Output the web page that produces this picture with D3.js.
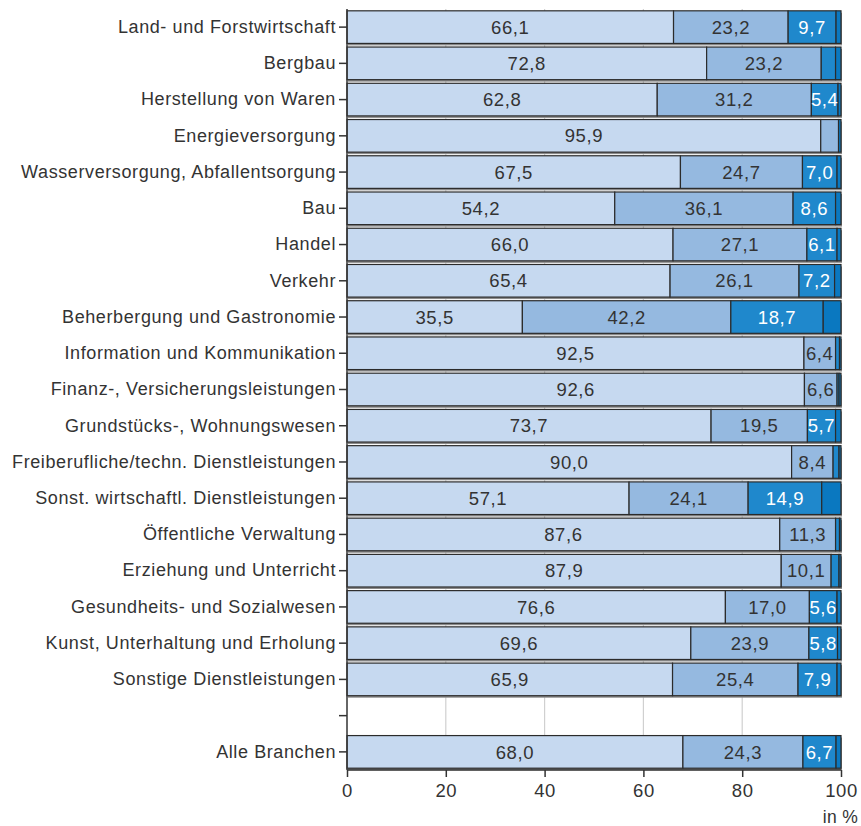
<!DOCTYPE html>
<html lang="de">
<head>
	<meta charset="UTF-8">
	<title>Branchen</title>
	<style>
		body { margin: 0; background: #fff; }
		text { font-family: "Liberation Sans", Arial, sans-serif; fill: #333; letter-spacing: 0.6px; }
		.axis path, .axis line { stroke: #333; stroke-width: 1.5; }
		.grid line { stroke: #d0d0d0; stroke-width: 1.2; }
	</style>
	<script src="https://cdn.jsdelivr.net/npm/d3@7/dist/d3.min.js"></script>
</head>
<body>
<script>
	// Kategorien (leerer Eintrag = Abstand vor "Alle Branchen")
	var categories = [
		"Land- und Forstwirtschaft", "Bergbau", "Herstellung von Waren", "Energieversorgung",
		"Wasserversorgung, Abfallentsorgung", "Bau", "Handel", "Verkehr",
		"Beherbergung und Gastronomie", "Information und Kommunikation",
		"Finanz-, Versicherungsleistungen", "Grundstücks-, Wohnungswesen",
		"Freiberufliche/techn. Dienstleistungen", "Sonst. wirtschaftl. Dienstleistungen",
		"Öffentliche Verwaltung", "Erziehung und Unterricht", "Gesundheits- und Sozialwesen",
		"Kunst, Unterhaltung und Erholung", "Sonstige Dienstleistungen", "", "Alle Branchen"
	];
	var part1 = [66.1, 72.8, 62.8, 95.9, 67.5, 54.2, 66.0, 65.4, 35.5, 92.5, 92.6, 73.7, 90.0, 57.1, 87.6, 87.9, 76.6, 69.6, 65.9, null, 68.0];
	var part2 = [23.2, 23.2, 31.2, 3.6, 24.7, 36.1, 27.1, 26.1, 42.2, 6.4, 6.6, 19.5, 8.4, 24.1, 11.3, 10.1, 17.0, 23.9, 25.4, null, 24.3];
	var part3 = [9.7, 2.9, 5.4, 0.0, 7.0, 8.6, 6.1, 7.2, 18.7, 0.8, 0.4, 5.7, 1.2, 14.9, 0.8, 1.6, 5.6, 5.8, 7.9, null, 6.7];
	var part4 = [1.0, 1.1, 0.6, 0.5, 0.8, 1.1, 0.8, 1.3, 3.6, 0.3, 0.4, 1.1, 0.4, 3.9, 0.3, 0.4, 0.8, 0.7, 0.8, null, 1.0];
	var xTicks = [0, 20, 40, 60, 80, 100];

	var colors = ["#c6d9f0", "#95b9e0", "#1f88cc", "#0a78c0"];
	var textColors = ["#333", "#333", "#fff", "#fff"];

	var width = 861, height = 826;
	var margin = {top: 9, right: 20, bottom: 56, left: 347};
	var innerW = 841 - margin.left, innerH = height - margin.top - margin.bottom;

	var svg = d3.select("body").append("svg")
		.attr("width", width)
		.attr("height", height);
	var g = svg.append("g")
		.attr("transform", "translate(" + margin.left + "," + margin.top + ")");

	var x = d3.scaleLinear().domain([0, 100]).range([0, innerW]);
	var y = d3.scaleBand().domain(d3.range(categories.length)).range([0, innerH]).paddingInner(0.1).paddingOuter(0.05);

	// Gitterlinien
	g.append("g").attr("class", "grid")
		.selectAll("line")
		.data(xTicks.slice(1, -1))
		.enter().append("line")
		.attr("x1", function(d) { return x(d); })
		.attr("x2", function(d) { return x(d); })
		.attr("y1", 0)
		.attr("y2", innerH);

	var rows = categories.map(function(c, i) {
		var vals = [part1[i], part2[i], part3[i], part4[i]];
		var x0 = 0;
		return {
			i: i,
			empty: part1[i] === null,
			segs: vals.map(function(v, k) {
				var s = {k: k, x0: x0, v: v || 0};
				x0 += v || 0;
				return s;
			})
		};
	}).filter(function(r) { return !r.empty; });

	var row = g.selectAll(".row")
		.data(rows)
		.enter().append("g")
		.attr("class", "row")
		.attr("transform", function(d) { return "translate(0," + y(d.i) + ")"; });

	// Schatten
	row.append("rect")
		.attr("x", 1)
		.attr("y", 2)
		.attr("width", x(100))
		.attr("height", y.bandwidth())
		.attr("fill", "#8a8a8a");

	row.selectAll(".seg")
		.data(function(d) { return d.segs.filter(function(s) { return s.v > 0; }); })
		.enter().append("rect")
		.attr("class", "seg")
		.attr("x", function(s) { return x(s.x0); })
		.attr("width", function(s) { return x(s.v); })
		.attr("height", y.bandwidth())
		.attr("fill", function(s) { return colors[s.k]; })
		.attr("stroke", "#2b2b2b")
		.attr("stroke-width", 1.2);

	row.selectAll(".lbl")
		.data(function(d) { return d.segs.filter(function(s) { return s.k < 3 && s.v >= 5; }); })
		.enter().append("text")
		.attr("class", "lbl")
		.attr("x", function(s) { return x(s.x0 + s.v / 2); })
		.attr("y", y.bandwidth() / 2)
		.attr("dy", "0.36em")
		.attr("text-anchor", "middle")
		.style("font-size", "18.5px")
		.style("fill", function(s) { return textColors[s.k]; })
		.text(function(s) { return s.v.toFixed(1).replace(".", ","); });

	// y-Achse
	var yAxis = g.append("g").attr("class", "axis")
		.call(d3.axisLeft(y).tickSize(8).tickPadding(3).tickFormat(function(i) { return categories[i]; }));
	yAxis.select(".domain").attr("d", "M0,0V" + innerH);
	yAxis.selectAll("text").style("font-size", "18px").style("fill", "#333");

	// x-Achse
	var xAxis = g.append("g").attr("class", "axis")
		.attr("transform", "translate(0," + innerH + ")")
		.call(d3.axisBottom(x).tickValues(xTicks).tickSize(7).tickPadding(7));
	xAxis.select(".domain").attr("d", "M0,0H" + innerW);
	xAxis.selectAll("text").style("font-size", "18.5px").style("fill", "#333");

	svg.append("text")
		.attr("x", 858)
		.attr("y", innerH + margin.top + 53)
		.attr("text-anchor", "end")
		.style("font-size", "17.5px")
		.style("letter-spacing", "0.3px")
		.text("in %");
</script>
</body>
</html>
